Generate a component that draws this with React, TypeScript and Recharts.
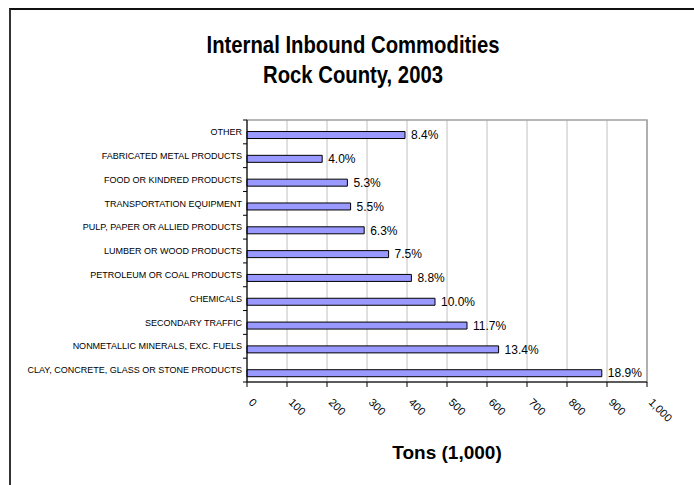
import React from 'react';
import { BarChart, Bar, XAxis, YAxis, CartesianGrid, LabelList, ReferenceArea } from 'recharts';

// categories top -> bottom, as in the picture
const commodities = [
	'OTHER',
	'FABRICATED METAL PRODUCTS',
	'FOOD OR KINDRED PRODUCTS',
	'TRANSPORTATION EQUIPMENT',
	'PULP, PAPER OR ALLIED PRODUCTS',
	'LUMBER OR WOOD PRODUCTS',
	'PETROLEUM OR COAL PRODUCTS',
	'CHEMICALS',
	'SECONDARY TRAFFIC',
	'NONMETALLIC MINERALS, EXC. FUELS',
	'CLAY, CONCRETE, GLASS OR STONE PRODUCTS',
];
const tons = [395, 188, 251, 259, 293, 354, 411, 470, 550, 629, 887];
const shares = ['8.4%', '4.0%', '5.3%', '5.5%', '6.3%', '7.5%', '8.8%', '10.0%', '11.7%', '13.4%', '18.9%'];
const tonTicks = [0, 100, 200, 300, 400, 500, 600, 700, 800, 900, 1000];

const data = commodities.map((name, i) => ({ name, tons: tons[i], share: shares[i] }));

const FONT = "'Liberation Sans', Arial, sans-serif";

// category label + small tick marks on the band edges (like excel does)
const CategoryTick = (props: any) => {
	const { x, y, payload, index } = props;
	const half = payload.offset || 0;
	const ax = x + 5;
	return (
		<g>
			<line x1={ax - 4} x2={ax} y1={y - half} y2={y - half} stroke="#000" />
			{index === commodities.length - 1 && (
				<line x1={ax - 4} x2={ax} y1={y + half} y2={y + half} stroke="#000" />
			)}
			<text x={x} y={y} dy="0.35em" textAnchor="end" fontSize={9} fill="#000" fontFamily={FONT}>
				{payload.value}
			</text>
		</g>
	);
};

const TonTick = (props: any) => {
	const { x, y, payload } = props;
	return (
		<g transform={`translate(${x + 1},${y + 14}) rotate(45)`}>
			<text x={0} y={0} textAnchor="start" fontSize={11} fill="#000" fontFamily={FONT}>
				{Number(payload.value).toLocaleString('en-US')}
			</text>
		</g>
	);
};

export default function App() {
	return (
		<div style={{ position: 'relative', width: 694, height: 485, overflow: 'hidden', background: '#fff', fontFamily: FONT }}>
			<style>{'body{margin:0}'}</style>
			{/* chart frame, only top and left edges are visible */}
			<div
				style={{
					position: 'absolute',
					left: 9,
					top: 8,
					width: 720,
					height: 520,
					borderLeft: '2px solid #333',
					borderTop: '2px solid #111',
				}}
			/>
			<div
				style={{
					position: 'absolute',
					left: 0,
					top: 30,
					width: 706,
					textAlign: 'center',
					fontFamily: FONT,
					fontWeight: 'bold',
					fontSize: 24,
					lineHeight: '30px',
					color: '#000',
					transform: 'scaleX(0.845)',
				}}
			>
				<div>Internal Inbound Commodities</div>
				<div>Rock County, 2003</div>
			</div>
			<div style={{ position: 'absolute', left: 0, top: 0 }}>
				<BarChart
					width={694}
					height={485}
					data={data}
					layout="vertical"
					barCategoryGap="19%"
					barGap={0}
					margin={{ top: 120, right: 47, bottom: 0, left: 0 }}
					style={{ fontFamily: FONT }}
				>
					<CartesianGrid horizontal={false} stroke="#c0c0c0" />
					<ReferenceArea
						yAxisId="cat"
						x1={0}
						x2={1000}
						y1={commodities[0]}
						y2={commodities[commodities.length - 1]}
						fill="none"
						stroke="#a0a0a0"
						strokeWidth={1.5}
					/>
					<XAxis
						type="number"
						domain={[0, 1000]}
						ticks={tonTicks}
						height={103}
						tickSize={5}
						tickMargin={2}
						axisLine={{ stroke: '#000' }}
						tickLine={{ stroke: '#000' }}
						tick={<TonTick />}
						interval={0}
						label={{
							value: 'Tons (1,000)',
							position: 'insideBottom',
							offset: 26,
							fontSize: 19,
							fontWeight: 'bold',
							fill: '#000',
						}}
					/>
					<YAxis
						yAxisId="cat"
						type="category"
						dataKey="name"
						width={247}
						tickSize={0}
						tickMargin={5}
						tickLine={false}
						axisLine={{ stroke: '#000' }}
						tick={<CategoryTick />}
						interval={0}
					/>
					{/* empty spacer series, pushes the real bar into the lower half of each band */}
					<Bar yAxisId="cat" dataKey="spacer" isAnimationActive={false} />
					<Bar yAxisId="cat" dataKey="tons" fill="#9999ff" stroke="#000" strokeWidth={1} isAnimationActive={false}>
						<LabelList dataKey="share" position="right" offset={6} fontSize={12} fill="#000" />
					</Bar>
				</BarChart>
			</div>
		</div>
	);
}
